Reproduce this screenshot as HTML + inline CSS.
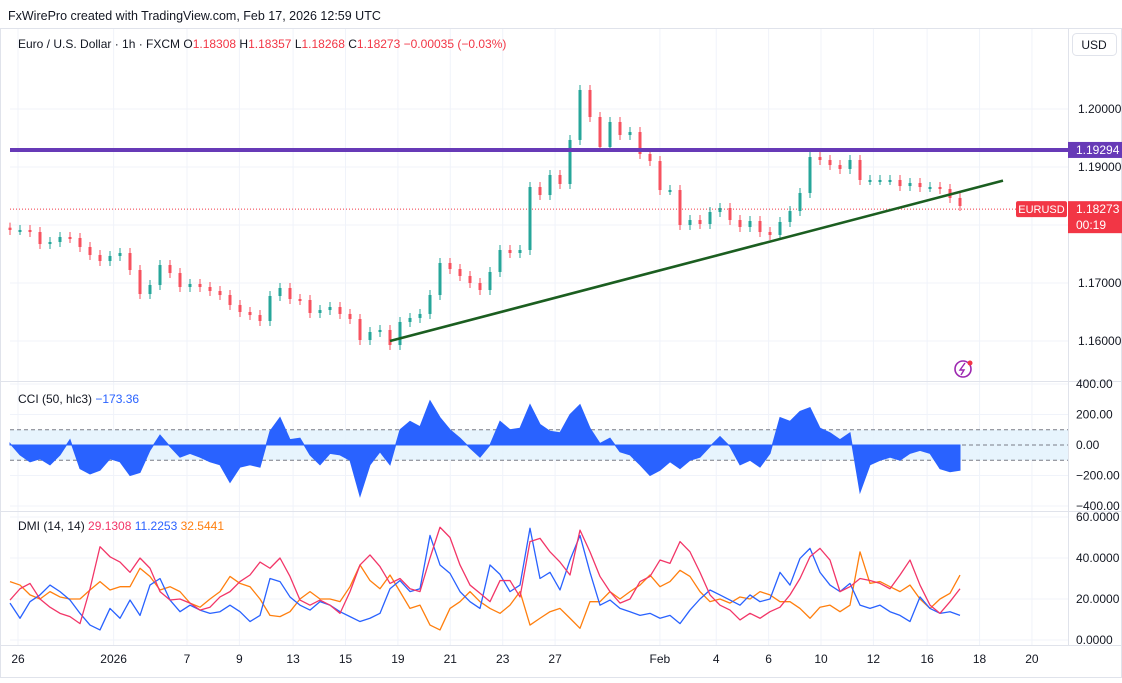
<!DOCTYPE html>
<html><head><meta charset="utf-8"><style>
html,body{margin:0;padding:0;background:#fff;}
body{width:1122px;height:678px;overflow:hidden;position:relative;font-family:"Liberation Sans",sans-serif;}
svg text{font-family:"Liberation Sans",sans-serif;}
</style></head><body>
<svg id="chart" width="1122" height="678" viewBox="0 0 1122 678" xmlns="http://www.w3.org/2000/svg">
<text x="8" y="20" font-size="12.5" fill="#131722">FxWirePro created with TradingView.com, Feb 17, 2026 12:59 UTC</text>
<rect x="0.5" y="28.5" width="1121" height="649" fill="none" stroke="#e0e3eb"/>
<g id="grid"></g>
<g id="main"></g>
<g id="cci"></g>
<g id="dmi"></g>
<g id="axes"></g>
<text x="18" y="48" font-size="12" fill="#131722">Euro / U.S. Dollar · 1h · FXCM  O<tspan fill="#f23645">1.18308</tspan>  H<tspan fill="#f23645">1.18357</tspan>  L<tspan fill="#f23645">1.18268</tspan>  C<tspan fill="#f23645">1.18273</tspan>  <tspan fill="#f23645">−0.00035 (−0.03%)</tspan></text>
<text x="18" y="403" font-size="12" fill="#131722">CCI (50, hlc3)  <tspan fill="#2962ff">−173.36</tspan></text>
<text x="18" y="530" font-size="12" fill="#131722">DMI (14, 14)  <tspan fill="#f23668">29.1308</tspan>  <tspan fill="#2962ff">11.2253</tspan>  <tspan fill="#ff7f0e">32.5441</tspan></text>
<rect x="1072.5" y="33.5" width="44" height="22" rx="4" fill="#fff" stroke="#e0e3eb"/>
<text x="1094" y="49" font-size="12" fill="#131722" text-anchor="middle">USD</text>
<g>
<circle cx="963" cy="369" r="8" fill="none" stroke="#9c27b0" stroke-width="1.6"/>
<path d="M965 363 L960 370 L964 370 L961 375" fill="none" stroke="#9c27b0" stroke-width="1.4"/>
<circle cx="970" cy="363" r="2.5" fill="#f23645"/>
</g>
</svg>
<script>
const prices=[1.17914,1.17914,1.17879,1.17672,1.17707,1.17793,1.17776,1.17621,1.17483,1.17379,1.17466,1.17517,1.17224,1.16810,1.16966,1.17310,1.17172,1.16931,1.16983,1.16931,1.16862,1.16793,1.16621,1.16500,1.16448,1.16345,1.16776,1.16914,1.16724,1.16707,1.16483,1.16534,1.16586,1.16466,1.16379,1.16017,1.16155,1.16190,1.15931,1.16328,1.16397,1.16466,1.16793,1.17345,1.17241,1.17121,1.17000,1.16879,1.17190,1.17569,1.17517,1.17569,1.18655,1.18517,1.18862,1.18707,1.19466,1.20328,1.19862,1.19345,1.19776,1.19552,1.19603,1.19224,1.19103,1.18603,1.18603,1.18000,1.18086,1.18017,1.18224,1.18293,1.18086,1.17966,1.18069,1.17879,1.17828,1.18052,1.18241,1.18552,1.19172,1.19121,1.19034,1.18966,1.19121,1.18776,1.18776,1.18776,1.18776,1.18672,1.18724,1.18655,1.18655,1.18621,1.18466,1.18328];
const cciValues=[10,-65,-110,-90,-130,-65,35,-155,-190,-165,-90,-110,-200,-180,-35,65,-10,-80,-55,-80,-110,-130,-245,-145,-130,-145,90,180,35,45,-65,-130,-55,-65,-100,-335,-130,-45,-130,100,155,120,290,180,100,45,-20,-80,0,155,100,110,265,135,90,80,200,265,110,10,45,-45,-65,-130,-200,-165,-110,-155,-100,-80,-10,55,-10,-130,-100,-145,-55,180,155,220,245,110,80,35,80,-310,-130,-100,-80,-100,-55,-35,-55,-155,-175,-165];
const redLine=[19.5,25,27.6,20,16,13,11.4,8,25,45.5,40.6,38,33,40,35,23.6,19.5,20,18,14.6,16,21,23.6,28.5,31.7,38,35,40,31,19.5,17,19.5,17,13,23.6,36.6,41.5,35.8,27.6,30,25,23.6,40,55,50,36.6,26.8,22.8,18.7,29,29,21,48,49.6,43,38,31.7,53.6,43,31,23.6,18,20,28.5,31,39,37.4,48,43,33,22,17,14.6,9.8,13,10.6,13.8,16,22,30,40.6,44.7,39,23.6,26,30,29,27.6,25,31.7,39,26.8,17,13,18.7,25];
const blueLine=[18,10.6,18.7,22,26.8,23.6,19.5,13,7.3,4.9,15.4,10.6,19.5,12,26.8,30,19.5,13.8,17,14.6,13,13.8,17,13.8,9,12,30,28.5,21,17,14.6,18.7,17,13.8,11.4,9,10.6,13,25,29,23.6,25,51,36.6,32.5,23.6,18.7,15.4,36.6,32,23.6,26.8,54.5,30,33,24.4,39,51,33,17,19.5,15.4,13.8,12,13,10.6,12,8,14.6,20,24.4,22,19.5,17,22,18.7,20,33,26.8,39.8,44.7,33,26.8,23.6,27.6,17,15.4,17,13.8,12,9,21,15.4,13,13.8,12];
const orangeLine=[28.5,26.8,22,20,23.6,21,20,20,24.4,28.5,24.4,26,26,35,31,24.4,26,23.6,18,16,20,23.6,31,27.6,26,20,12,11.4,13.8,20,23.6,20,20,18.7,26,36.6,29,25,31.7,23.6,15.4,17,7.3,4.9,15.4,18.7,23.6,18.7,15.4,13,17,23.6,7.3,10.6,13.8,15.4,10.6,5.7,18.7,18.7,23.6,20,23.6,26.8,31.7,26,28.5,34,31,23.6,18.7,20,18,21,20,23.6,22,18.7,18.7,15.4,10.6,16,17,13.8,17,43,27.6,28.5,26,23.6,26.8,20,15.4,20,22.8,31.7];
const priceTicks=[1.16,1.17,1.19,1.20];
const cciTicks=[400,200,0,-200,-400];
const dmiTicks=[60,40,20,0];
const dateLabels=["26","2026","7","9","13","15","19","21","23","27","Feb","4","6","10","12","16","18","20"];
const dateTradingDay=[0,3.65,6.45,8.45,10.5,12.5,14.5,16.5,18.5,20.5,24.5,26.65,28.65,30.65,32.65,34.7,36.7,38.7];
const resistance=1.19294, lastPrice=1.18273;
const trendStart=[0,1.1600], trendEnd=[1,1.18800];

const NS="http://www.w3.org/2000/svg";
function mk(tag,attrs,parent){const e=document.createElementNS(NS,tag);for(const k in attrs)e.setAttribute(k,attrs[k]);parent.appendChild(e);return e;}
const L=10,R=1068;
const xi=i=>10+i*(950/(prices.length-1));
const xd=d=>18+d*26.2;
const yP=p=>225-(p-1.18)*5800;
const yC=v=>445-v*0.1525;
const yD=v=>640-v*2.05;
const grid=document.getElementById('grid'),main=document.getElementById('main'),cci=document.getElementById('cci'),dmi=document.getElementById('dmi'),axes=document.getElementById('axes');

dateLabels.forEach((t,i)=>{const x=xd(dateTradingDay[i]);
 const g=mk('line',{x1:x,x2:x,y1:29,y2:645,stroke:'#f0f3fa'},grid);
 
 
 const tx=mk('text',{x:x,y:663,'font-size':12,fill:'#131722','text-anchor':'middle'},axes);tx.textContent=t;
 
 
});
[[381],[511],[645]].forEach(a=>{const s=mk('line',{x1:0,x2:1122,y1:a[0]+.5,y2:a[0]+.5,stroke:'#e0e3eb'},axes);
 
 });
const ax=mk('line',{x1:R+.5,x2:R+.5,y1:29,y2:645,stroke:'#e0e3eb'},axes);



[1.16,1.17,1.18,1.19,1.20].forEach(p=>{const g=mk('line',{x1:L,x2:R,y1:yP(p),y2:yP(p),stroke:'#f0f3fa'},grid);
 
 });
priceTicks.forEach(p=>{const t=mk('text',{x:1078,y:yP(p)+4,'font-size':12,fill:'#131722'},axes);t.textContent=p.toFixed(5);
 
 });

const lp=mk('line',{x1:L,x2:1017,y1:yP(lastPrice),y2:yP(lastPrice),stroke:'#f23645','stroke-dasharray':'1 2','stroke-width':1},main);



for(let i=0;i<prices.length;i++){
 const o=i?prices[i-1]:prices[0]+0.0004,c=prices[i];
 const up=c>=o,col=up?'#26a69a':'#f7525f';
 const x=xi(i),yt=Math.min(yP(o),yP(c)),yb=Math.max(yP(o),yP(c));
 const w=mk('line',{x1:x,x2:x,y1:yt-5,y2:yb+5,stroke:col,'stroke-width':1},main);
 
 
 const b=mk('rect',{x:x-1.5,y:yt,width:3,height:Math.max(2,yb-yt),fill:col},main);
 
 
}
const rl=mk('line',{x1:L,x2:R,y1:yP(resistance),y2:yP(resistance),stroke:'#673ab7','stroke-width':4},main);


const tx0=390,tx1=1003;
const tl=mk('line',{x1:tx0,y1:yP(trendStart[1]),x2:tx1,y2:yP(trendEnd[1])+2,stroke:'#1b5e20','stroke-width':2.6},main);



const rb=mk('rect',{x:1068,y:yP(resistance)-8,width:54,height:16,fill:'#673ab7'},axes);


const rt=mk('text',{x:1076,y:yP(resistance)+4,'font-size':12,fill:'#fff'},axes);rt.textContent=resistance.toFixed(5);


const sb=mk('rect',{x:1016,y:yP(lastPrice)-8,width:51,height:16,rx:2,fill:'#f23645'},axes);


const st=mk('text',{x:1041.5,y:yP(lastPrice)+4,'font-size':11,fill:'#fff','text-anchor':'middle'},axes);st.textContent='EURUSD';


const lb=mk('rect',{x:1068,y:yP(lastPrice)-8,width:54,height:32,fill:'#f23645'},axes);


const lt=mk('text',{x:1076,y:yP(lastPrice)+4,'font-size':12,fill:'#fff'},axes);lt.textContent=lastPrice.toFixed(5);


const ct=mk('text',{x:1076,y:yP(lastPrice)+20,'font-size':12,fill:'#fff'},axes);ct.textContent='00:19';



const band=mk('rect',{x:L,y:yC(100),width:R-L,height:yC(-100)-yC(100),fill:'#e3f2fd',opacity:0.85},cci);


cciTicks.forEach(v=>{const g=mk('line',{x1:L,x2:R,y1:yC(v),y2:yC(v),stroke:'#f0f3fa'},grid);
 
 
 const t=mk('text',{x:1076,y:yC(v)+4,'font-size':12,fill:'#131722'},axes);t.textContent=(v<0?'−':'')+Math.abs(v).toFixed(2);
 
 });
[100,0,-100].forEach(v=>{const d=mk('line',{x1:L,x2:R,y1:yC(v),y2:yC(v),stroke:'#787b86','stroke-dasharray':'4 3'},cci);
 
 });
let cp='M'+xi(0)+','+yC(0);
cciValues.forEach((v,i)=>{cp+=' L'+xi(i)+','+yC(v);});
cp+=' L'+xi(cciValues.length-1)+','+yC(0)+' Z';
const ca=mk('path',{d:cp,fill:'#2962ff',stroke:'#2962ff','stroke-width':1},cci);



dmiTicks.forEach(v=>{const g=mk('line',{x1:L,x2:R,y1:yD(v),y2:yD(v),stroke:'#f0f3fa'},grid);
 
 
 const t=mk('text',{x:1076,y:yD(v)+4,'font-size':12,fill:'#131722'},axes);t.textContent=v.toFixed(4);
 
 });
function line(arr,col,name){const d=arr.map((v,i)=>(i?'L':'M')+xi(i)+','+yD(v)).join(' ');
 const p=mk('path',{d:d,fill:'none',stroke:col,'stroke-width':1.3,'stroke-linejoin':'round'},dmi);
 
 }
line(orangeLine,'#ff7f0e','dmi-orange-line');
line(blueLine,'#2962ff','dmi-blue-line');
line(redLine,'#f23668','dmi-red-line');
</script>
</body></html>
